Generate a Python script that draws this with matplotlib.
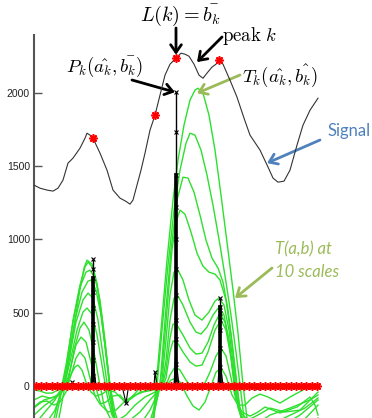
import numpy as np
import matplotlib
matplotlib.use('Agg')
import matplotlib.pyplot as plt

plt.rcParams['mathtext.fontset'] = 'cm'

# signal (sample offset, value)
sig_x = [0, 6, 13, 19, 24, 29, 34, 39, 46, 51, 53, 56, 59, 66, 73, 79, 86, 92, 96, 99,
         103, 107, 111, 116, 121, 126, 131, 136, 142, 147, 151, 155, 160, 165, 169, 173,
         178, 182, 185, 189, 196, 203, 210, 216, 226, 234, 239, 244, 250, 256, 263, 269,
         276, 284]
sig_y = [1371, 1350, 1337, 1330, 1350, 1405, 1521, 1555, 1623, 1691, 1725, 1712, 1691,
         1589, 1473, 1337, 1282, 1260, 1241, 1269, 1371, 1473, 1589, 1746, 1848, 1985,
         2121, 2196, 2237, 2271, 2264, 2250, 2196, 2121, 2100, 2135, 2176, 2196, 2223,
         2196, 2087, 1971, 1828, 1712, 1610, 1494, 1419, 1391, 1398, 1473, 1644, 1780,
         1882, 1964]

# detected peaks on the signal
peak_x = [59, 121, 142, 185]
peak_y = [1691, 1848, 2237, 2223]

# wavelet coefficients T(a,b) at 10 scales
s10_x = [0, 11, 21, 25, 31, 38, 45, 50, 53, 58, 63, 68, 73, 77, 82, 91, 101, 111, 116, 119,
         122, 127, 133, 139, 144, 150, 156, 161, 164, 169, 175, 181, 187, 194, 199, 204,
         209, 213, 221, 236, 256, 276, 284]
s10_y = [-641, -471, -300, -218, 0, 314, 621, 805, 859, 832, 702, 464, 164, -82, -368,
         -709, -777, -573, -368, -218, 0, 382, 859, 1269, 1541, 1780, 1951, 2019, 2032,
         1998, 1848, 1610, 1303, 928, 655, 361, 7, -218, -573, -914, -777, -436, -300]
s9_x = [0, 11, 22, 28, 32, 39, 46, 51, 54, 59, 64, 69, 74, 78, 84, 94, 104, 114, 120, 123,
        128, 134, 140, 146, 152, 156, 161, 167, 173, 179, 186, 192, 197, 202, 206, 210,
        218, 236, 261, 284]
s9_y = [-573, -423, -218, -27, 109, 450, 689, 812, 846, 805, 655, 382, 95, -130, -402,
        -641, -641, -436, -218, 0, 382, 825, 1200, 1473, 1657, 1725, 1712, 1610, 1439,
        1234, 962, 709, 484, 232, 7, -218, -505, -777, -573, -232]
s8_x = [0, 11, 20, 26, 32, 39, 46, 52, 56, 61, 66, 71, 75, 79, 86, 96, 106, 116, 122, 126,
        131, 137, 143, 149, 154, 160, 166, 172, 178, 184, 189, 194, 199, 203, 207, 214,
        231, 256, 284]
s8_y = [-471, -334, -218, -61, 143, 436, 675, 777, 791, 737, 587, 314, 55, -150, -368,
        -505, -471, -300, -130, 0, 450, 928, 1269, 1425, 1419, 1323, 1166, 996, 873, 805,
        709, 518, 246, 7, -218, -436, -573, -436, -218]
s7_x = [0, 11, 21, 28, 34, 41, 48, 54, 57, 62, 67, 72, 76, 81, 88, 98, 108, 117, 124, 128,
        133, 138, 142, 146, 151, 157, 163, 169, 175, 181, 186, 192, 197, 202, 206, 212,
        226, 251, 284]
s7_y = [-368, -266, -164, -27, 177, 450, 641, 716, 723, 655, 484, 232, 7, -177, -334,
        -402, -355, -218, -61, 109, 518, 928, 1118, 1200, 1173, 1050, 907, 818, 777, 764,
        723, 587, 348, 41, -164, -368, -471, -368, -130]
s6_x = [0, 11, 21, 29, 35, 42, 49, 54, 59, 64, 69, 74, 79, 86, 96, 106, 116, 123, 128, 132,
        136, 140, 144, 149, 155, 161, 168, 175, 181, 185, 190, 195, 200, 204, 210, 221,
        241, 266, 284]
s6_y = [-266, -177, -95, 0, 177, 436, 587, 634, 600, 450, 211, -27, -198, -300, -314,
        -266, -164, -61, 41, 314, 621, 777, 791, 723, 587, 484, 450, 505, 580, 600, 552,
        382, 109, -130, -300, -368, -300, -198, -95]
s5_x = [0, 11, 21, 30, 36, 43, 49, 53, 58, 63, 68, 73, 78, 86, 96, 106, 116, 123, 128, 132,
        136, 140, 144, 149, 156, 162, 167, 173, 179, 185, 190, 195, 200, 204, 211, 224,
        246, 271, 284]
s5_y = [-198, -130, -82, 0, 164, 382, 505, 532, 491, 348, 143, -61, -198, -266, -232,
        -177, -95, -41, 7, 177, 450, 600, 614, 552, 436, 368, 355, 402, 484, 539, 484,
        314, 55, -130, -266, -300, -232, -150, -82]
s4_x = [0, 10, 20, 28, 34, 40, 46, 50, 55, 60, 65, 70, 76, 84, 92, 101, 111, 121, 128, 132,
        136, 139, 143, 149, 156, 162, 168, 174, 180, 186, 191, 196, 200, 204, 211, 221,
        236, 256, 276, 284]
s4_y = [-150, -95, -75, -41, 27, 246, 396, 436, 382, 232, 41, -130, -218, -232, -198,
        -130, -75, -41, -14, 109, 327, 423, 416, 348, 259, 218, 225, 300, 416, 498, 436,
        259, 27, -150, -266, -266, -198, -150, -95, -61]
s3_x = [0, 8, 16, 24, 31, 36, 42, 47, 52, 57, 62, 67, 74, 82, 90, 99, 109, 119, 128, 132,
        136, 139, 143, 149, 156, 162, 168, 174, 181, 187, 192, 197, 201, 206, 214, 224,
        236, 251, 266, 278, 284]
s3_y = [-95, -68, -82, -68, -14, 109, 280, 334, 300, 164, -14, -130, -177, -164, -109,
        -68, -41, -27, -14, 55, 232, 307, 300, 232, 164, 136, 143, 232, 382, 450, 382,
        191, -27, -177, -232, -198, -150, -177, -164, -82, -41]
s2_x = [0, 6, 13, 20, 26, 32, 37, 42, 46, 51, 56, 61, 66, 72, 79, 86, 92, 98, 106, 116,
        126, 132, 136, 141, 146, 152, 158, 164, 170, 176, 182, 187, 192, 197, 202, 208,
        216, 224, 231, 246, 263, 276, 281, 284]
s2_y = [-143, -109, -102, -130, -109, -41, 75, 191, 232, 191, 55, -68, -123, -109, -68,
        -61, -109, -82, -41, -27, -20, 7, 75, 130, 109, 41, -14, -14, 7, 95, 205, 259, 205,
        55, -95, -177, -205, -177, -143, -184, -143, -75, -130, -198]
s1_x = [0, 6, 12, 18, 24, 30, 36, 41, 44, 48, 52, 57, 62, 68, 74, 81, 87, 92, 97, 104,
        112, 120, 126, 132, 137, 142, 147, 153, 159, 165, 171, 177, 182, 187, 192, 198,
        204, 211, 218, 226, 234, 246, 256, 269, 278, 284]
s1_y = [-27, -34, -48, -48, -27, 0, 68, 130, 143, 109, 27, -41, -68, -55, -27, -41, -82,
        -116, -82, -27, 0, 14, 0, 0, 41, 55, 20, -68, -136, -164, -109, 0, 95, 123, 68,
        -61, -130, -130, -82, -55, -75, -116, -75, -27, 14, -14]

scales_x = [s1_x, s2_x, s3_x, s4_x, s5_x, s6_x, s7_x, s8_x, s9_x, s10_x]
scales_y = [s1_y, s2_y, s3_y, s4_y, s5_y, s6_y, s7_y, s8_y, s9_y, s10_y]

# ridge lines (maxima across scales)
ridge_left_x = 59
ridge_left_y = [0, 70, 180, 300, 420, 530, 640, 740, 800, 866]
ridge_mid_x = 142
ridge_mid_y = [0, 150, 320, 450, 620, 800, 1000, 1220, 1440, 1730, 2005]
ridge_right_x = 186
ridge_right_y = [0, 130, 260, 380, 450, 500, 540, 600]
minor_x = [38, 92, 121, 223, 273]
minor_y = [27, -116, 95, -14, 10]

# samples on the zero line
zero_x = np.arange(2, 284, 5.2)

fig = plt.figure(figsize=(3.72, 4.18), dpi=100)
ax = fig.add_axes([34 / 372, 0, 338 / 372, 383 / 418])

for xs, ys in zip(scales_x, scales_y):
    ax.plot(xs, ys, color='#2ee02e', lw=1.0, zorder=2)

# ridges
for rx, ry, thick in [(ridge_left_x, ridge_left_y, 740),
                      (ridge_mid_x, ridge_mid_y, 1440),
                      (ridge_right_x, ridge_right_y, 540)]:
    ry = np.array(ry)
    ax.plot([rx] * len(ry), ry, color='k', lw=1.0, marker='x', ms=3, mew=0.8, zorder=3)
    low = ry[ry <= thick]
    ax.plot([rx] * len(low), low, color='k', lw=2.6, zorder=3)
    ax.plot([rx - 2, rx - 1, rx], [0, 120, 260], color='k', lw=0.9, zorder=3)
    ax.plot([rx + 3, rx + 1, rx], [0, 120, 260], color='k', lw=0.9, zorder=3)
ax.plot(minor_x, minor_y, 'kx', ms=3.5, mew=0.8, zorder=3)
ax.plot([89, 92, 94], [-27, -116, -27], color='k', lw=0.8, zorder=3)
ax.plot([120, 121, 123], [0, 95, 0], color='k', lw=0.8, zorder=3)

ax.plot(zero_x, np.zeros(len(zero_x)), color='red', lw=1.5, marker=(8, 2, 0),
        ms=6, mew=1.2, zorder=4)

ax.plot(sig_x, sig_y, color='#333333', lw=0.8, zorder=5)
ax.plot(peak_x, peak_y, color='red', ls='none', marker=(8, 2, 0), ms=6, mew=1.2, zorder=6)

ax.set_xlim(0, 338)
ax.set_ylim(-218, 2395)
for s in ['top', 'right', 'bottom']:
    ax.spines[s].set_visible(False)
ax.spines['left'].set_color('#555555')
ax.spines['left'].set_linewidth(1.5)
ax.set_xticks([])
ax.set_yticks([0, 500, 1000, 1500, 2000])
ax.tick_params(axis='y', direction='in', length=6, width=1, color='#555555',
               labelsize=7.5, pad=3)
for lab in ax.get_yticklabels():
    lab.set_family('Liberation Sans')
    lab.set_color('#222222')


def px(x, y):
    return (x / 372, 1 - y / 418)


arrow_k = dict(arrowstyle='->,head_length=0.5,head_width=0.35', color='k', lw=2,
               mutation_scale=11, shrinkA=0, shrinkB=0)
arrow_g = dict(arrow_k, color='#9bbb59')
arrow_b = dict(arrow_k, color='#4f81bd')

ax.annotate('', xy=(142, 2260), xytext=px(176, 28), textcoords='figure fraction',
            arrowprops=arrow_k)
ax.annotate('', xy=(163, 2210), xytext=px(222, 37), textcoords='figure fraction',
            arrowprops=arrow_k)
ax.annotate('', xy=(141, 2005), xytext=px(132, 80), textcoords='figure fraction',
            arrowprops=arrow_k)
ax.annotate('', xy=(163, 1998), xytext=px(240, 75), textcoords='figure fraction',
            arrowprops=arrow_g)
ax.annotate('', xy=(233, 1521), xytext=px(320, 140), textcoords='figure fraction',
            arrowprops=arrow_b)
ax.annotate('', xy=(201, 600), xytext=px(272, 268), textcoords='figure fraction',
            arrowprops=arrow_g)

fig.text(*px(180, 15), r'$L(k) = \bar{b_k}$', fontsize=14.5, ha='center', va='center')
fig.text(*px(222, 36), r'$\mathrm{peak}\ k$', fontsize=13.5, ha='left', va='center')
fig.text(*px(105, 67), r'$P_k(\hat{a_k},\bar{b_k})$', fontsize=13.5, ha='center', va='center')
fig.text(*px(280, 76), r'$T_k(\hat{a_k},\hat{b_k})$', fontsize=13.5, ha='center', va='center')
fig.text(*px(349, 131), 'Signal', fontsize=12, family='Lato', color='#4f81bd',
         ha='center', va='center')
fig.text(*px(275, 261), 'T(a,b) at\n10 scales', fontsize=12, family='Lato',
         style='italic', color='#9bbb59', ha='left', va='center', linespacing=1.5)

fig.savefig('out.png', dpi=100)
